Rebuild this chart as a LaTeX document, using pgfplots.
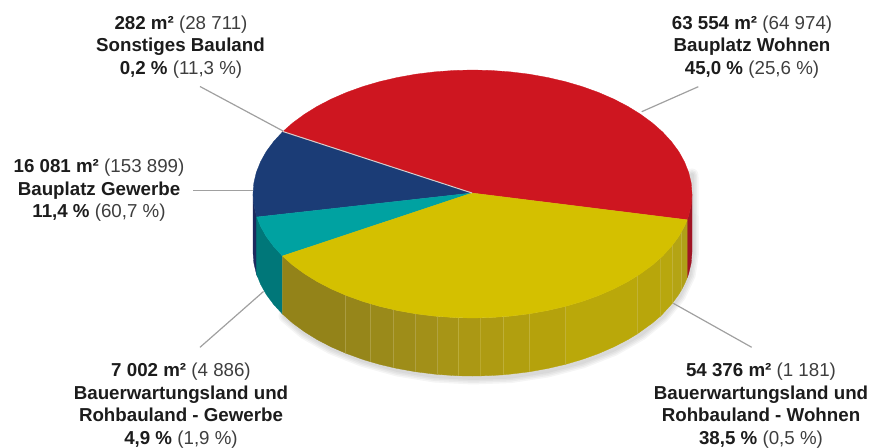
\documentclass[border=0pt]{standalone}
\usepackage{pgfplots}
\usepackage{pgfplotstable}
\usepackage{fontspec}
\setmainfont{Liberation Sans}
\pgfplotsset{compat=1.18}

\definecolor{cRed}{HTML}{CE1620}
\definecolor{cRedS}{HTML}{A01424}
\definecolor{cNavy}{HTML}{1B3C76}
\definecolor{cNavyS}{HTML}{1C2A5E}
\definecolor{cTeal}{HTML}{00A2A1}
\definecolor{cTealS}{HTML}{007779}
\definecolor{cYel}{HTML}{D4C000}
\definecolor{cLead}{HTML}{A0A0A0}
\definecolor{cSliver}{HTML}{D6CECC}
\definecolor{cTxt}{HTML}{1C1C1C}
\definecolor{cTxtR}{HTML}{3E3E3E}
\definecolor{fa}{HTML}{938319}
\definecolor{fb}{HTML}{96861A}
\definecolor{fc}{HTML}{9A8A1A}
\definecolor{fd}{HTML}{9E8D19}
\definecolor{fe}{HTML}{A29018}
\definecolor{ff}{HTML}{A79516}
\definecolor{fg}{HTML}{AB9814}
\definecolor{fh}{HTML}{AE9B12}
\definecolor{fi}{HTML}{B19F0F}
\definecolor{fj}{HTML}{B5A20C}
\definecolor{fk}{HTML}{BAA80A}
\definecolor{fl}{HTML}{B8A60B}
\definecolor{fm}{HTML}{B8A70E}
\definecolor{fn}{HTML}{B4A414}
\definecolor{fo}{HTML}{B0A018}
\definecolor{seamA}{HTML}{B4A750}
\definecolor{seamB}{HTML}{C4B646}

\pgfplotsset{
  slice/.style={draw=#1,fill=#1,line width=0.3pt,line join=round},
  seam/.style={draw=#1,line width=0.5pt,opacity=0.55},
  lead/.style={draw=cLead,line width=1.2pt},
  shad/.style={draw=black,opacity=0.04,line width=#1,line join=round,line cap=round},
}
\tikzset{lab/.style={anchor=base,inner sep=0pt,text=cTxtR,font=\fontsize{18.8}{22}\selectfont}}
\newcommand{\bb}[1]{\textcolor{cTxt}{\bfseries #1}}

% outline of the underside, for the soft shadow
\pgfplotstableread{
x y
692 175
692.5 253
689.2 275
679.3 296
663.1 316
641.1 334
614.1 349.5
582.3 362
547.6 371
510.6 376.6
472.5 378
434.4 376
397.4 370
362.7 360.4
331.4 348
304.4 332.7
285 316
}\shadowline

\begin{document}
\begin{tikzpicture}
\useasboundingbox (0,0) rectangle (877bp,448bp);
\begin{axis}[
  anchor=south west,
  at={(0,0)},
  scale only axis,
  width=877bp,
  height=448bp,
  xmin=0, xmax=877,
  ymin=0, ymax=448,
  y dir=reverse,
  hide axis,
  clip=false,
]
% shadow
\addplot[shad=13pt] table {\shadowline};
\addplot[shad=10pt] table {\shadowline};
\addplot[shad=7pt] table {\shadowline};
\addplot[shad=4pt] table {\shadowline};

% side walls
\addplot[slice=cRedS] coordinates {(692,194)(691.2,204.8)(688.7,215.5)(687.2,219.8)(687.2,277.8)(688.7,273.5)(691.2,262.8)(692,252)} --cycle;
\addplot[slice=cNavyS] coordinates {(253,194)(253.8,204.8)(256.3,215.5)(257.5,219)(257.5,277)(256.3,273.5)(253.8,262.8)(253,252)} --cycle;
\addplot[slice=cTealS] coordinates {(256.3,215.5)(260.5,226.1)(266.2,236.4)(273.6,246.4)(282.4,256)(282.4,314)(273.6,304.4)(266.2,294.4)(260.5,284.1)(256.3,273.5)} --cycle;

% yellow wall, facet by facet
\addplot[slice=fa] coordinates {(282.4,256)(292.7,265.1)(304.4,273.7)(317.3,281.7)(331.4,289)(345.7,295.2)(345.7,353.2)(331.4,347)(317.3,339.7)(304.4,331.7)(292.7,323.1)(282.4,314)} --cycle;
\addplot[slice=fb] coordinates {(345.7,295.2)(362.7,301.4)(370.3,303.7)(370.3,361.7)(362.7,359.4)(345.7,353.2)} --cycle;
\addplot[slice=fc] coordinates {(370.3,303.7)(379.7,306.4)(393.3,309.6)(393.3,367.6)(379.7,364.4)(370.3,361.7)} --cycle;
\addplot[slice=fd] coordinates {(393.3,309.6)(397.4,310.5)(415.3,313.7)(415.3,371.7)(397.4,368.5)(393.3,367.6)} --cycle;
\addplot[slice=fe] coordinates {(415.3,313.7)(434.4,316.1)(437.3,316.4)(437.3,374.4)(434.4,374.1)(415.3,371.7)} --cycle;
\addplot[slice=ff] coordinates {(437.3,316.4)(453.4,317.5)(458.7,317.8)(458.7,375.8)(453.4,375.5)(437.3,374.4)} --cycle;
\addplot[slice=fg] coordinates {(458.7,317.8)(472.5,318)(480,317.9)(480,375.9)(472.5,376)(458.7,375.8)} --cycle;
\addplot[slice=fh] coordinates {(480,317.9)(491.6,317.5)(503.3,316.8)(503.3,374.8)(491.6,375.5)(480,375.9)} --cycle;
\addplot[slice=fi] coordinates {(503.3,316.8)(510.6,316.1)(529.3,313.8)(529.3,371.8)(510.6,374.1)(503.3,374.8)} --cycle;
\addplot[slice=fj] coordinates {(529.3,313.8)(547.6,310.5)(565.7,306.3)(565.7,364.3)(547.6,368.5)(529.3,371.8)} --cycle;
\addplot[slice=fk] coordinates {(565.7,306.3)(582.3,301.4)(598.4,295.6)(613.6,289)(627.7,281.7)(637.3,275.9)(637.3,333.9)(627.7,339.7)(613.6,347)(598.4,353.6)(582.3,359.4)(565.7,364.3)} --cycle;
\addplot[slice=fl] coordinates {(637.3,275.9)(652.3,265.1)(660,258.5)(660,316.5)(652.3,323.1)(637.3,333.9)} --cycle;
\addplot[slice=fm] coordinates {(660,258.5)(662.6,256)(672.3,245.3)(672.3,303.3)(662.6,314)(660,316.5)} --cycle;
\addplot[slice=fn] coordinates {(672.3,245.3)(678.8,236.4)(681.7,231.5)(681.7,289.5)(678.8,294.4)(672.3,303.3)} --cycle;
\addplot[slice=fo] coordinates {(681.7,231.5)(684.5,226.1)(687.2,219.8)(687.2,277.8)(684.5,284.1)(681.7,289.5)} --cycle;

% facet seams
\addplot[seam=seamA] coordinates {(345.7,295.2)(345.7,353.2)};
\addplot[seam=seamA] coordinates {(370.3,303.7)(370.3,361.7)};
\addplot[seam=seamA] coordinates {(393.3,309.6)(393.3,367.6)};
\addplot[seam=seamA] coordinates {(415.3,313.7)(415.3,371.7)};
\addplot[seam=seamA] coordinates {(437.3,316.4)(437.3,374.4)};
\addplot[seam=seamB] coordinates {(458.7,317.8)(458.7,375.8)};
\addplot[seam=seamB] coordinates {(480,317.9)(480,375.9)};
\addplot[seam=seamB] coordinates {(503.3,316.8)(503.3,374.8)};
\addplot[seam=seamB] coordinates {(529.3,313.8)(529.3,371.8)};
\addplot[seam=seamB] coordinates {(565.7,306.3)(565.7,364.3)};
\addplot[seam=seamB] coordinates {(637.3,275.9)(637.3,333.9)};
\addplot[seam=seamB] coordinates {(660,258.5)(660,316.5)};
\addplot[seam=seamB] coordinates {(672.3,245.3)(672.3,303.3)};
\addplot[seam=seamB] coordinates {(681.7,231.5)(681.7,289.5)};

% top face
\addplot[slice=cRed] coordinates {(472,193)(282.4,132)(292.7,122.9)(304.4,114.3)(317.3,106.3)(331.4,99)(346.6,92.4)(362.7,86.6)(379.7,81.6)(397.4,77.5)(415.7,74.2)(434.4,71.9)(453.4,70.5)(472.5,70)(491.6,70.5)(510.6,71.9)(529.3,74.2)(547.6,77.5)(565.3,81.6)(582.3,86.6)(598.4,92.4)(613.6,99)(627.7,106.3)(640.6,114.3)(652.3,122.9)(662.6,132)(671.4,141.6)(678.8,151.6)(684.5,161.9)(688.7,172.5)(691.2,183.2)(692,194)(691.2,204.8)(688.7,215.5)(687.2,219.8)} --cycle;
\addplot[slice=cNavy] coordinates {(472,193)(256.8,217)(256.3,215.5)(253.8,204.8)(253,194)(253.8,183.2)(256.3,172.5)(260.5,161.9)(266.2,151.6)(273.6,141.6)(282.4,132)} --cycle;
\addplot[slice=cTeal] coordinates {(472,193)(282.4,256)(273.6,246.4)(266.2,236.4)(260.5,226.1)(256.8,217)} --cycle;
\addplot[slice=cYel] coordinates {(472,193)(687.2,219.8)(684.5,226.1)(678.8,236.4)(671.4,246.4)(662.6,256)(652.3,265.1)(640.6,273.7)(627.7,281.7)(613.6,289)(598.4,295.6)(582.3,301.4)(565.3,306.4)(547.6,310.5)(529.3,313.8)(510.6,316.1)(491.6,317.5)(472.5,318)(453.4,317.5)(434.4,316.1)(415.7,313.8)(397.4,310.5)(379.7,306.4)(362.7,301.4)(346.6,295.6)(331.4,289)(317.3,281.7)(304.4,273.7)(292.7,265.1)(282.4,256)} --cycle;

% sliver of the 0,2 % share, and the leaders
\addplot[draw=cSliver,line width=1pt] coordinates {(283,131.5)(472,193)};
\addplot[lead] coordinates {(200,86.5)(283,131)};
\addplot[lead] coordinates {(193,190.5)(253,190.5)};
\addplot[lead] coordinates {(200,347.3)(263.5,291.5)};
\addplot[lead] coordinates {(673.3,303.3)(751.7,347.3)};
\addplot[lead] coordinates {(641.7,111.7)(698.3,86.7)};

% labels
\node[lab] at (axis cs:181,29.3) {\bb{282 m²} (28 711)};
\node[lab] at (axis cs:180.5,51.5) {\bb{Sonstiges Bauland}};
\node[lab] at (axis cs:181,74) {\bb{0,2 \%} (11,3 \%)};

\node[lab] at (axis cs:99,172.7) {\bb{16 081 m²} (153 899)};
\node[lab] at (axis cs:99,195) {\bb{Bauplatz Gewerbe}};
\node[lab] at (axis cs:99,217.5) {\bb{11,4 \%} (60,7 \%)};

\node[lab] at (axis cs:181,376.5) {\bb{7 002 m²} (4 886)};
\node[lab] at (axis cs:181,399) {\bb{Bauerwartungsland und}};
\node[lab] at (axis cs:181,421) {\bb{Rohbauland - Gewerbe}};
\node[lab] at (axis cs:181,444) {\bb{4,9 \%} (1,9 \%)};

\node[lab] at (axis cs:752,29.3) {\bb{63 554 m²} (64 974)};
\node[lab] at (axis cs:752,51.5) {\bb{Bauplatz Wohnen}};
\node[lab] at (axis cs:752,74) {\bb{45,0 \%} (25,6 \%)};

\node[lab] at (axis cs:761,376.5) {\bb{54 376 m²} (1 181)};
\node[lab] at (axis cs:761,399) {\bb{Bauerwartungsland und}};
\node[lab] at (axis cs:761,421) {\bb{Rohbauland - Wohnen}};
\node[lab] at (axis cs:761,444) {\bb{38,5 \%} (0,5 \%)};
\end{axis}
\end{tikzpicture}
\end{document}
